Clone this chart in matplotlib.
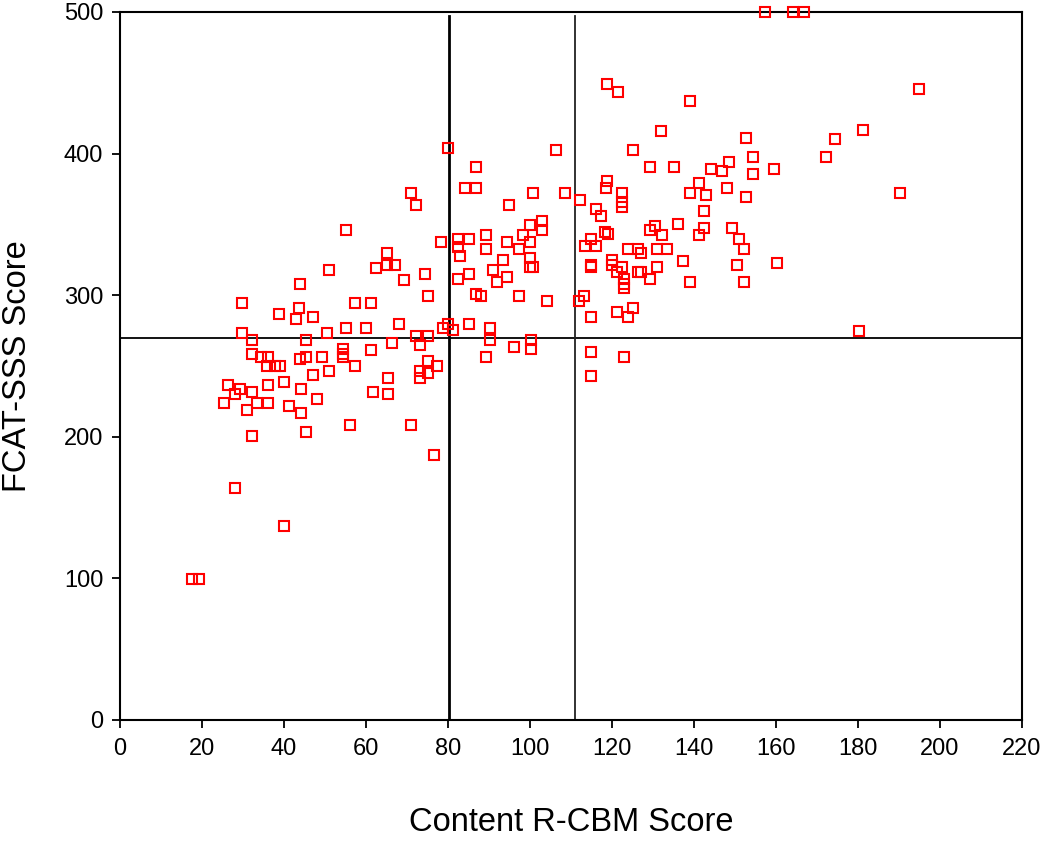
import numpy as np
import matplotlib.pyplot as plt

# Content R-CBM score (x) and FCAT-SSS score (y)
rcbm = [17.5, 19.3, 28.0, 40.1, 25.3, 26.4, 28.1, 29.3, 29.8, 29.8,
        31.0, 32.1, 32.1, 32.1, 32.1, 33.3, 34.4, 35.9, 36.1, 36.1,
        36.2, 37.8, 38.9, 39.0, 40.1, 41.2, 42.9, 43.6, 44.0, 44.0,
        44.1, 44.1, 45.3, 45.3, 45.3, 47.0, 47.0, 48.1, 49.3, 50.4,
        50.9, 50.9, 54.4, 54.4, 54.4, 55.0, 55.0, 56.1, 57.2, 57.2,
        60.1, 61.2, 61.2, 61.8, 62.4, 65.2, 65.2, 65.3, 65.3, 66.4,
        67.1, 68.1, 69.2, 70.9, 71.0, 72.1, 72.1, 73.2, 73.2, 73.2,
        74.4, 75.0, 75.0, 75.0, 75.0, 76.7, 77.2, 78.4, 78.9,
        80.1, 80.1, 81.3, 82.4, 82.4, 82.4, 82.9, 84.1, 85.1, 85.2,
        85.2, 86.9, 86.9, 86.9, 88.1, 89.3, 89.3, 89.3, 90.3, 90.3,
        90.9, 92.0, 93.3, 94.4, 94.4, 95.0, 96.2, 97.2, 97.2, 98.4,
        100.1, 100.1, 100.1, 100.1, 100.8, 100.2, 100.2, 100.7, 102.9, 102.9,
        104.1, 106.3, 108.6,
        111.9, 112.1, 113.2, 113.3, 114.9, 116.0, 114.9, 114.9, 114.9, 114.9,
        114.9, 116.0, 117.2, 118.4, 119.0, 118.5, 118.8, 118.8, 120.1, 120.1,
        121.3, 121.3, 121.5, 122.4, 122.4, 122.4, 122.4, 123.0, 123.0, 123.0,
        123.0, 123.9, 124.0, 125.2, 125.2, 126.4, 126.4, 127.0, 127.0, 129.2,
        129.3, 129.3, 130.4, 130.9, 130.9, 132.0, 132.1, 133.3, 135.0, 136.1,
        137.2, 139.0, 139.0, 139.0, 141.3, 141.3, 142.4, 142.4, 143.0, 144.1,
        146.9, 148.1, 148.6, 149.3, 150.4, 151.0, 152.1, 152.1, 152.7, 152.7,
        154.5, 154.4, 157.3, 159.5, 160.2, 164.2, 166.9, 172.1, 174.4, 180.2,
        181.2, 190.3, 195.0]
fcat = [99.4, 99.4, 163.6, 137.2, 223.7, 236.8, 230.2, 233.5, 294.6, 273.0,
        218.7, 268.4, 258.3, 231.9, 200.3, 223.7, 256.6, 250.0, 236.8, 223.7,
        256.6, 250.0, 286.4, 250.0, 238.5, 222.1, 283.2, 291.3, 307.9, 255.0,
        233.5, 216.9, 268.4, 256.6, 203.6, 284.8, 243.4, 226.9, 256.6, 273.5,
        317.8, 246.7, 261.8, 258.3, 256.6, 346.0, 276.6, 208.5, 294.6, 250.0,
        276.6, 294.6, 261.5, 231.9, 319.3, 329.6, 321.3, 241.7, 230.2, 266.5,
        321.3, 279.9, 311.0, 372.4, 208.5, 364.0, 271.4, 264.8, 246.7, 241.7,
        314.9, 299.6, 271.4, 253.3, 244.8, 187.1, 250.0, 337.6, 276.6,
        403.7, 280.0, 275.5, 339.4, 333.9, 311.2, 327.7, 375.7, 339.4, 314.9,
        280.0, 390.8, 375.7, 301.2, 299.6, 342.7, 332.6, 256.6, 276.9, 268.4,
        317.8, 309.6, 324.6, 337.7, 312.9, 364.0, 263.2, 332.6, 299.6, 342.7,
        349.3, 337.7, 326.3, 319.7, 319.7, 268.4, 261.8, 372.4, 352.6, 346.0,
        296.2, 402.3, 372.4,
        296.2, 367.4, 299.6, 334.7, 339.4, 334.7, 321.3, 319.6, 284.8, 259.7,
        243.2, 360.9, 355.9, 344.6, 343.0, 375.7, 381.0, 449.0, 324.9, 321.3,
        316.1, 288.1, 443.6, 372.4, 365.8, 362.5, 319.6, 311.2, 307.9, 305.4,
        256.6, 332.6, 284.8, 402.3, 291.3, 332.6, 316.1, 329.6, 316.1, 390.8,
        346.0, 311.2, 349.0, 332.6, 319.6, 416.2, 342.7, 332.6, 390.8, 350.6,
        324.4, 437.0, 372.4, 309.6, 379.0, 342.7, 359.2, 347.7, 370.8, 389.1,
        387.5, 375.7, 393.8, 347.7, 321.3, 339.4, 332.6, 309.6, 410.8, 369.0,
        397.4, 385.9, 500.0, 389.0, 322.7, 500.0, 500.0, 397.4, 410.5, 274.7,
        417.0, 372.4, 445.3]

cut_y = 270
cut_x1 = 80.3
cut_x2 = 111

xticks = np.arange(0, 221, 20)
yticks = np.arange(0, 501, 100)

plt.rcParams['font.family'] = ['Liberation Sans', 'DejaVu Sans']

fig = plt.figure(figsize=(10.46, 8.41), dpi=100)
ax = fig.add_axes([120/1046, 121/841, 902/1046, 708/841])

ax.plot(rcbm, fcat, ls='none', marker='s', ms=7.6, mfc='none',
        mec='#ff0000', mew=1.5, clip_on=False, zorder=3)

ax.plot([0, 220], [cut_y, cut_y], color='black', lw=1.3, zorder=2)
ax.plot([cut_x1, cut_x1], [0, 497], color='black', lw=2.0, zorder=2)
ax.plot([cut_x2, cut_x2], [0, 497], color='#222222', lw=1.3, zorder=2)

ax.set_xlim(0, 220)
ax.set_ylim(0, 500)
ax.set_xticks(xticks)
ax.set_yticks(yticks)
for s in ax.spines.values():
    s.set_linewidth(1.5)
ax.tick_params(direction='out', length=6, width=1.3, pad=6)
ax.tick_params(axis='y', labelsize=17)
ax.tick_params(axis='x', labelsize=17, pad=7)

ax.set_xlabel('Content R-CBM Score', fontsize=23.5, labelpad=34)
ax.set_ylabel('FCAT-SSS Score', fontsize=23.5, labelpad=22)

fig.savefig('out.png', dpi=100)
